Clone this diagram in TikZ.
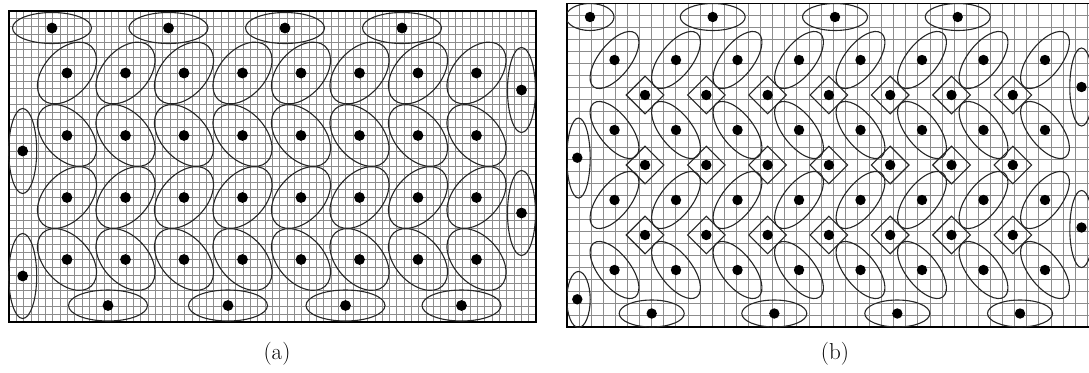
\documentclass[tikz,border=0pt]{standalone}
\usepackage{fontspec}
\usetikzlibrary{shapes.geometric}
\begin{document}
\begin{tikzpicture}[x=1pt,y=-1pt,
  gridline/.style={draw=black!45, line width=0.9pt},
  frameline/.style={draw=black, line width=1.5pt},
  cell/.style={draw=black!85, line width=1.1pt},
  dmd/.style={diamond, draw=black!85, line width=1.1pt, minimum size=38pt, inner sep=0pt},
  lab/.style={font=\fontsize{23}{28}\selectfont, anchor=base, inner sep=0pt}]
\useasboundingbox (0,0) rectangle (1089,372);

% ---------------- panel (a) ----------------
\begin{scope}
  \clip (9,11) rectangle (536,322);
  \foreach \i in {1,...,71} \draw[gridline] ({9+7.3194*\i},11) -- ({9+7.3194*\i},322);
  \foreach \j in {1,...,39} \draw[gridline] (9,{11+7.775*\j}) -- (536,{11+7.775*\j});
\end{scope}
\draw[frameline] (9,11) rectangle (536,322);

\foreach \yy/\ang in {73/48, 135.5/-48, 197.5/48, 259.5/-48}
  \foreach \c in {0,...,7} {
    \pgfmathsetmacro{\xx}{67+58.5*\c}
    \draw[cell, rotate around={\ang:(\xx,\yy)}] (\xx,\yy) ellipse [x radius=36pt, y radius=23pt];
    \fill (\xx,\yy) circle [radius=5.4pt];
  }
% top / bottom horizontal
\foreach \xx/\yy in {52/28, 168.5/28, 285/28, 402/28, 108/305.5, 228/305.5, 345.5/305.5, 461.5/305.5} {
  \draw[cell] (\xx,\yy) ellipse [x radius=39.5pt, y radius=15.5pt];
  \fill (\xx,\yy) circle [radius=5.4pt];
}
% left / right vertical
\foreach \xx/\yy in {22.7/151, 22.7/276, 521.5/90, 521.5/213} {
  \draw[cell] (\xx,\yy) ellipse [x radius=14pt, y radius=42.5pt];
  \fill (\xx,\yy) circle [radius=5.4pt];
}
\node[lab] (la) at (277,359.5) {(a)};

% ---------------- panel (b) ----------------
\begin{scope}
  \clip (567,3.5) rectangle (1089,327);
  \foreach \i in {1,...,43} \draw[gridline] ({567+12.1*\i},3.5) -- ({567+12.1*\i},327);
  \foreach \j in {1,...,26} \draw[gridline] (567,{3.5+12*\j}) -- (1089,{3.5+12*\j});
\end{scope}
\draw[frameline] (1095,3.5) -- (567,3.5) -- (567,327) -- (1095,327);

\begin{scope}
  \clip (567,3.5) rectangle (1089,327);
  \foreach \yy/\ang in {60/52, 130/-52, 200/52, 270/-52}
    \foreach \c in {0,...,7} {
      \pgfmathsetmacro{\xx}{614.5+61.5*\c}
      \draw[cell, rotate around={\ang:(\xx,\yy)}] (\xx,\yy) ellipse [x radius=34pt, y radius=16pt];
      \fill (\xx,\yy) circle [radius=5.2pt];
    }
  \foreach \yy [count=\r] in {95, 165, 235}
    \foreach \c in {0,...,6} {
      \pgfmathsetmacro{\xx}{645+61.3*\c}
      \node[dmd] (d\r-\c) at (\xx,\yy) {};
      \fill (\xx,\yy) circle [radius=5.2pt];
    }
  % top / bottom horizontal
  \draw[cell] (590,17) ellipse [x radius=24pt, y radius=13.5pt];
  \fill (590,17) circle [radius=5.2pt];
  \foreach \xx/\yy in {712.7/17, 835/17, 957.7/17, 651.7/313.5, 774.3/313.5, 897.3/313.5, 1020/313.5} {
    \draw[cell] (\xx,\yy) ellipse [x radius=32.5pt, y radius=13.5pt];
    \fill (\xx,\yy) circle [radius=5.2pt];
  }
  % left / right vertical
  \draw[cell] (578.5,158) ellipse [x radius=11.7pt, y radius=40pt];
  \fill (577.3,157.7) circle [radius=5.2pt];
  \draw[cell] (578.5,299.5) ellipse [x radius=11.7pt, y radius=28pt];
  \fill (577.3,299.3) circle [radius=5.2pt];
  \draw[cell] (1081.5,87) ellipse [x radius=11.7pt, y radius=39pt];
  \fill (1081.5,87) circle [radius=5.2pt];
  \draw[cell] (1081.5,229) ellipse [x radius=11.7pt, y radius=38.5pt];
  \fill (1081.5,227.5) circle [radius=5.2pt];
\end{scope}
\node[lab] (lb) at (835,359.5) {(b)};
\end{tikzpicture}
\end{document}
